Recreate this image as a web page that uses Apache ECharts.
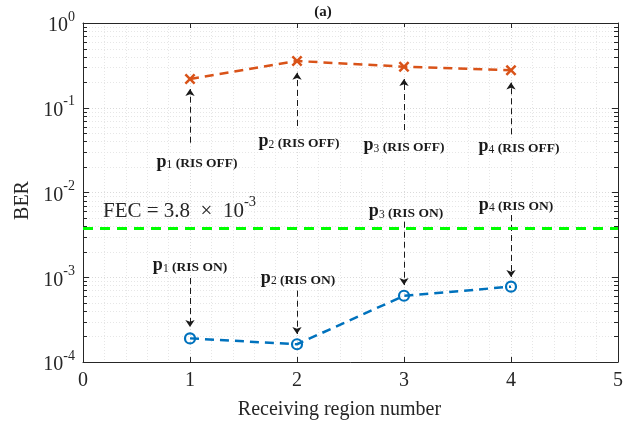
<!DOCTYPE html>
<html>
<head>
<meta charset="utf-8">
<script src="https://cdn.jsdelivr.net/npm/echarts@6/dist/echarts.min.js"></script>
<style>html,body{margin:0;padding:0;background:#fff}#c{width:638px;height:428px}</style>
</head>
<body>
<div id="c"></div>
<script>
// ---- data ----
const regions = [1, 2, 3, 4];
const berRisOff = [0.218, 0.356, 0.305, 0.277];
const berRisOn = [1.90e-4, 1.62e-4, 6.05e-4, 7.74e-4];
const fecThreshold = 3.8e-3;
const pointNames = ['1', '2', '3', '4'];
// annotation arrows (tail value, tip value) and label anchor values in BER units
const offArrowTail = [0.0387, 0.0609, 0.0546, 0.0486];
const offArrowTip = [0.166, 0.259, 0.218, 0.198];
const offLabelAt = [0.0229, 0.0398, 0.0357, 0.0347];
const onArrowTail = [9.8e-4, 6.94e-4, 4.52e-3, 5.42e-3];
const onArrowTip = [2.59e-4, 2.14e-4, 8.1e-4, 1.01e-3];
const onLabelAt = [1.37e-3, 9.73e-4, 5.93e-3, 7.12e-3];
const xTicks = [0, 1, 2, 3, 4, 5];
const yDecades = [1e-4, 1e-3, 1e-2, 1e-1, 1];

// ---- styles ----
const FONT = '"Liberation Serif","Times New Roman",serif';
const ORANGE = '#D95319', BLUE = '#0072BD', GREEN = '#00FF00', AX = '#262626';
const GRIDC = '#dadada', MINORC = '#e6e6e6';
// small horizontal nudges of the annotation texts (px)
const offLabelNudge = [7, 2, 0, 8];
const onLabelNudge = [0, 1, 2, 5];

const minorVals = [];
for (let d = 0; d < yDecades.length - 1; d++) {
  for (let m = 2; m <= 9; m++) minorVals.push(yDecades[d] * m);
}

const supRich = {
  a: {fontFamily: FONT, fontSize: 20, color: AX, lineHeight: 26, verticalAlign: 'bottom'},
  b: {fontFamily: FONT, fontSize: 14, color: AX, lineHeight: 14, verticalAlign: 'top'}
};
const fecRich = {
  a: {fontFamily: FONT, fontSize: 21, color: AX, lineHeight: 27, verticalAlign: 'bottom'},
  b: {fontFamily: FONT, fontSize: 14.5, color: AX, lineHeight: 14, verticalAlign: 'top'}
};
const annRich = {
  p: {fontFamily: FONT, fontSize: 18, fontWeight: 'bold', color: '#1a1a1a', lineHeight: 18, verticalAlign: 'bottom'},
  s: {fontFamily: FONT, fontSize: 11.5, color: '#1a1a1a', lineHeight: 12, verticalAlign: 'bottom'},
  t: {fontFamily: FONT, fontSize: 13.5, fontWeight: 'bold', color: '#1a1a1a', lineHeight: 15, verticalAlign: 'bottom'}
};

function arrows(tails, tips) {
  return regions.map((x, i) => [{coord: [x, tails[i]]}, {coord: [x, tips[i]]}]);
}
function labels(at, tag, nudge) {
  return regions.map((x, i) => ({
    coord: [x, at[i]],
    name: '{p|p}{s|' + pointNames[i] + '}{t| (' + tag + ')}',
    label: {offset: [nudge[i], 0]}
  }));
}
const arrowLine = {
  silent: true, symbol: ['none', 'arrow'], symbolSize: 7,
  lineStyle: {color: '#1a1a1a', type: [6, 4], width: 1}, label: {show: false}
};
const annPoint = {
  silent: true, symbol: 'circle', symbolSize: 0,
  label: {show: true, position: 'inside', formatter: p => p.name, rich: annRich}
};

const crossPath = 'path://M0,1.6 L1.6,0 L5,3.4 L8.4,0 L10,1.6 L6.6,5 L10,8.4 L8.4,10 L5,6.6 L1.6,10 L0,8.4 L3.4,5 Z';

const fecLine = [
  {
    coord: [xTicks[0], fecThreshold], symbol: 'none',
    lineStyle: {color: GREEN, width: 3, type: [10, 7]},
    label: {
      show: true, position: 'insideStartTop', distance: 2,
      padding: [0, 0, 4, 18],
      formatter: '{a|FEC = 3.8\u2002×\u200210}{b|-3}',
      rich: fecRich
    }
  },
  {coord: [xTicks[xTicks.length - 1], fecThreshold], symbol: 'none'}
];

const chart = echarts.init(document.getElementById('c'), null, {renderer: 'canvas'});
chart.setOption({
  animation: false,
  backgroundColor: '#fff',
  title: {
    text: '(a)', left: 318, top: 0, textAlign: 'center',
    textStyle: {fontFamily: FONT, fontSize: 15, fontWeight: 'bold', color: '#1a1a1a'}
  },
  grid: {left: 83, right: 20, top: 23, bottom: 66},
  xAxis: [{
    type: 'value', min: 0, max: 5, interval: 1,
    name: 'Receiving region number', nameLocation: 'middle', nameGap: 38,
    nameTextStyle: {fontFamily: FONT, fontSize: 20, color: AX, padding: [0, 22, 0, 0]},
    axisLine: {show: true, onZero: false, lineStyle: {color: AX, width: 1}},
    axisTick: {show: true, inside: true, length: 5, lineStyle: {color: AX}},
    axisLabel: {fontFamily: FONT, fontSize: 20, color: AX, margin: 9},
    splitLine: {show: true, lineStyle: {color: GRIDC, type: [1, 2]}},
    minorTick: {show: false, splitNumber: 5},
    minorSplitLine: {show: true, lineStyle: {color: MINORC, type: [1, 2]}}
  }, {
    type: 'value', min: 0, max: 5, interval: 1, position: 'top',
    axisLine: {show: true, onZero: false, lineStyle: {color: AX, width: 1}},
    axisTick: {show: true, inside: true, length: 5, lineStyle: {color: AX}},
    axisLabel: {show: false}, splitLine: {show: false}
  }],
  yAxis: [{
    type: 'log', logBase: 10, min: yDecades[0], max: yDecades[yDecades.length - 1],
    name: 'BER', nameLocation: 'middle', nameGap: 46,
    nameTextStyle: {fontFamily: FONT, fontSize: 20, color: AX, padding: [0, 0, 0, -16]},
    axisLine: {show: true, onZero: false, lineStyle: {color: AX, width: 1}},
    axisTick: {show: true, inside: true, length: 6, lineStyle: {color: AX}},
    axisLabel: {
      margin: 8,
      formatter: v => '{a|10}{b|' + Math.round(Math.log10(v)) + '}',
      rich: supRich
    },
    splitLine: {show: true, lineStyle: {color: GRIDC, type: [1, 2]}}
  }, {
    type: 'log', logBase: 10, min: yDecades[0], max: yDecades[yDecades.length - 1], position: 'right',
    axisLine: {show: true, onZero: false, lineStyle: {color: AX, width: 1}},
    axisTick: {show: true, inside: true, length: 6, lineStyle: {color: AX}},
    axisLabel: {show: false}, splitLine: {show: false}
  }],
  series: [
    {
      // minor log grid lines and minor ticks on left/right axes
      type: 'custom', silent: true, z: 1,
      data: minorVals.map(v => [0, v]),
      renderItem: (params, api) => {
        const cs = params.coordSys;
        const y = Math.round(api.coord([0, api.value(1)])[1]) + 0.5;
        const x0 = cs.x, x1 = cs.x + cs.width;
        return {
          type: 'group', children: [
            {type: 'line', shape: {x1: x0, y1: y, x2: x1, y2: y}, style: {stroke: MINORC, lineWidth: 1, lineDash: [1, 2]}},
            {type: 'line', shape: {x1: x0, y1: y, x2: x0 + 4, y2: y}, style: {stroke: AX, lineWidth: 1}},
            {type: 'line', shape: {x1: x1 - 4, y1: y, x2: x1, y2: y}, style: {stroke: AX, lineWidth: 1}}
          ]
        };
      }
    },
    {
      name: 'RIS OFF', type: 'line', z: 5,
      data: regions.map((x, i) => [x, berRisOff[i]]),
      symbol: crossPath, symbolSize: 11, showSymbol: true,
      itemStyle: {color: ORANGE},
      lineStyle: {color: ORANGE, width: 2.5, type: [9, 6]},
      markLine: Object.assign({data: arrows(offArrowTail, offArrowTip)}, arrowLine),
      markPoint: Object.assign({data: labels(offLabelAt, 'RIS OFF', offLabelNudge)}, annPoint)
    },
    {
      name: 'RIS ON', type: 'line', z: 5,
      data: regions.map((x, i) => [x, berRisOn[i]]),
      symbol: 'circle', symbolSize: 10, showSymbol: true,
      itemStyle: {color: 'rgba(0,0,0,0)', borderColor: BLUE, borderWidth: 2.2},
      lineStyle: {color: BLUE, width: 2.5, type: [9, 6]},
      markLine: Object.assign({data: arrows(onArrowTail, onArrowTip).concat([fecLine])}, arrowLine),
      markPoint: Object.assign({data: labels(onLabelAt, 'RIS ON', onLabelNudge)}, annPoint)
    }
  ]
});
</script>
</body>
</html>
